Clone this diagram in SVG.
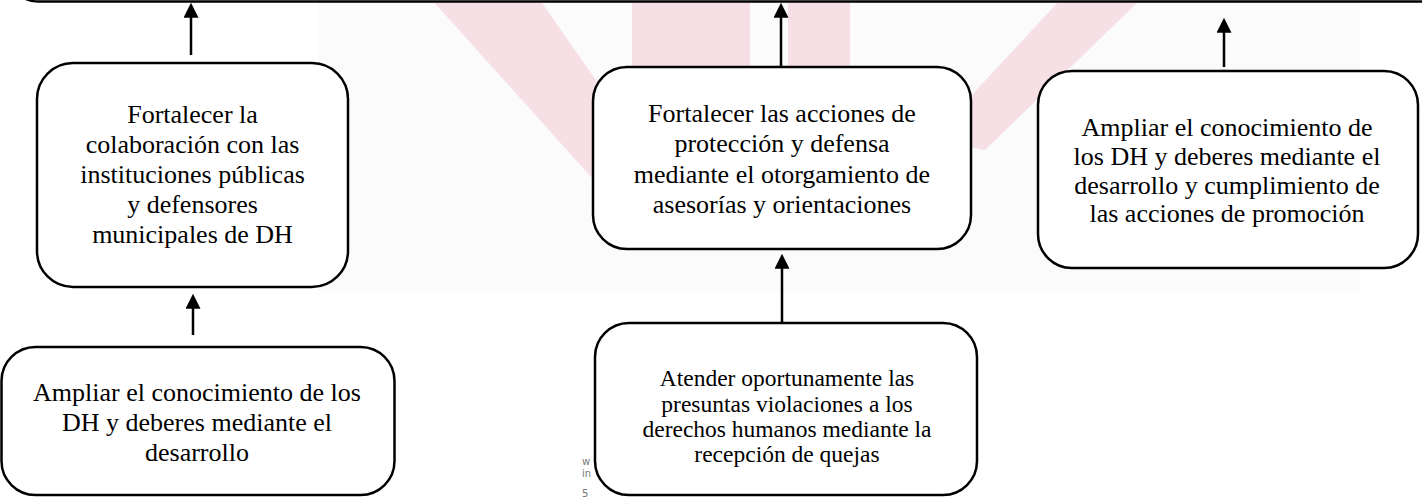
<svg xmlns="http://www.w3.org/2000/svg" width="1422" height="498" viewBox="0 0 1422 498">
  <style>
    .box { fill: #ffffff; stroke: #000000; stroke-width: 2.5; }
    .lbl { font-family: "Liberation Serif", "Times New Roman", serif; font-size: 26px; fill: #000000; text-anchor: middle; }
    .lbl-s { font-family: "Liberation Serif", "Times New Roman", serif; font-size: 23.5px; fill: #000000; text-anchor: middle; }
    .conn { stroke: #000000; stroke-width: 2.5; fill: none; marker-end: url(#ah); }
    .wm { fill: #f0bfcb; opacity: 0.45; }
    .frag { font-family: "DejaVu Sans", sans-serif; font-size: 10px; fill: #777777; }
  </style>
  <defs>
    <marker id="ah" viewBox="0 0 10 10" markerWidth="15" markerHeight="15" markerUnits="userSpaceOnUse" refX="0.5" refY="5" orient="auto">
      <path d="M0,0 L10,5 L0,10 z" fill="#000000"/>
    </marker>
  </defs>

  <rect x="0" y="0" width="1422" height="498" fill="#ffffff"/>

  <g id="watermark">
    <rect x="318" y="0" width="1042" height="292" fill="#fbfbfb"/>
    <polygon class="wm" points="432,0 540,0 655,165 592,178"/>
    <rect class="wm" x="632" y="0" width="118" height="105"/>
    <rect class="wm" x="788" y="0" width="62" height="92"/>
    <polygon class="wm" points="1060,0 1140,0 985,150 930,140"/>
  </g>

  <g id="node-top">
    <rect class="box" x="8" y="-200" width="1450" height="201.5" rx="30" ry="30"/>
  </g>

  <g id="node-a">
    <rect class="box" x="37" y="63" width="311" height="224" rx="36" ry="36"/>
    <text class="lbl" x="192.5" y="123">Fortalecer la</text>
    <text class="lbl" x="192.5" y="153">colaboración con las</text>
    <text class="lbl" x="192.5" y="183">instituciones públicas</text>
    <text class="lbl" x="192.5" y="213">y defensores</text>
    <text class="lbl" x="192.5" y="243">municipales de DH</text>
  </g>

  <g id="node-b">
    <rect class="box" x="1.5" y="347" width="393" height="148" rx="34" ry="34"/>
    <text class="lbl" x="197" y="401">Ampliar el conocimiento de los</text>
    <text class="lbl" x="197" y="431">DH y deberes mediante el</text>
    <text class="lbl" x="197" y="461">desarrollo</text>
  </g>

  <g id="node-c">
    <rect class="box" x="593" y="67" width="378" height="182" rx="34" ry="34"/>
    <text class="lbl" x="782" y="122">Fortalecer las acciones de</text>
    <text class="lbl" x="782" y="152">protección y defensa</text>
    <text class="lbl" x="782" y="183">mediante el otorgamiento de</text>
    <text class="lbl" x="782" y="213">asesorías y orientaciones</text>
  </g>

  <g id="node-d">
    <rect class="box" x="1038" y="71" width="380" height="197" rx="34" ry="34"/>
    <text class="lbl" x="1227" y="136">Ampliar el conocimiento de</text>
    <text class="lbl" x="1227" y="165">los DH y deberes mediante el</text>
    <text class="lbl" x="1227" y="194">desarrollo y cumplimiento de</text>
    <text class="lbl" x="1227" y="222">las acciones de promoción</text>
  </g>

  <g id="fragments">
    <text class="frag" x="582" y="465">w</text>
    <text class="frag" x="582" y="477">in</text>
    <text class="frag" x="582" y="497">5</text>
  </g>

  <g id="node-e">
    <rect class="box" x="595" y="323" width="382" height="172" rx="34" ry="34"/>
    <text class="lbl-s" x="787" y="386">Atender oportunamente las</text>
    <text class="lbl-s" x="787" y="412">presuntas violaciones a los</text>
    <text class="lbl-s" x="787" y="437">derechos humanos mediante la</text>
    <text class="lbl-s" x="787" y="462">recepción de quejas</text>
  </g>

  <g id="connectors">
    <line class="conn" x1="191" y1="55" x2="191" y2="17"/>
    <line class="conn" x1="781" y1="67" x2="781" y2="17"/>
    <line class="conn" x1="1224" y1="67" x2="1224" y2="32"/>
    <line class="conn" x1="193" y1="335" x2="193" y2="308"/>
    <line class="conn" x1="782" y1="322" x2="782" y2="268"/>
  </g>
</svg>
